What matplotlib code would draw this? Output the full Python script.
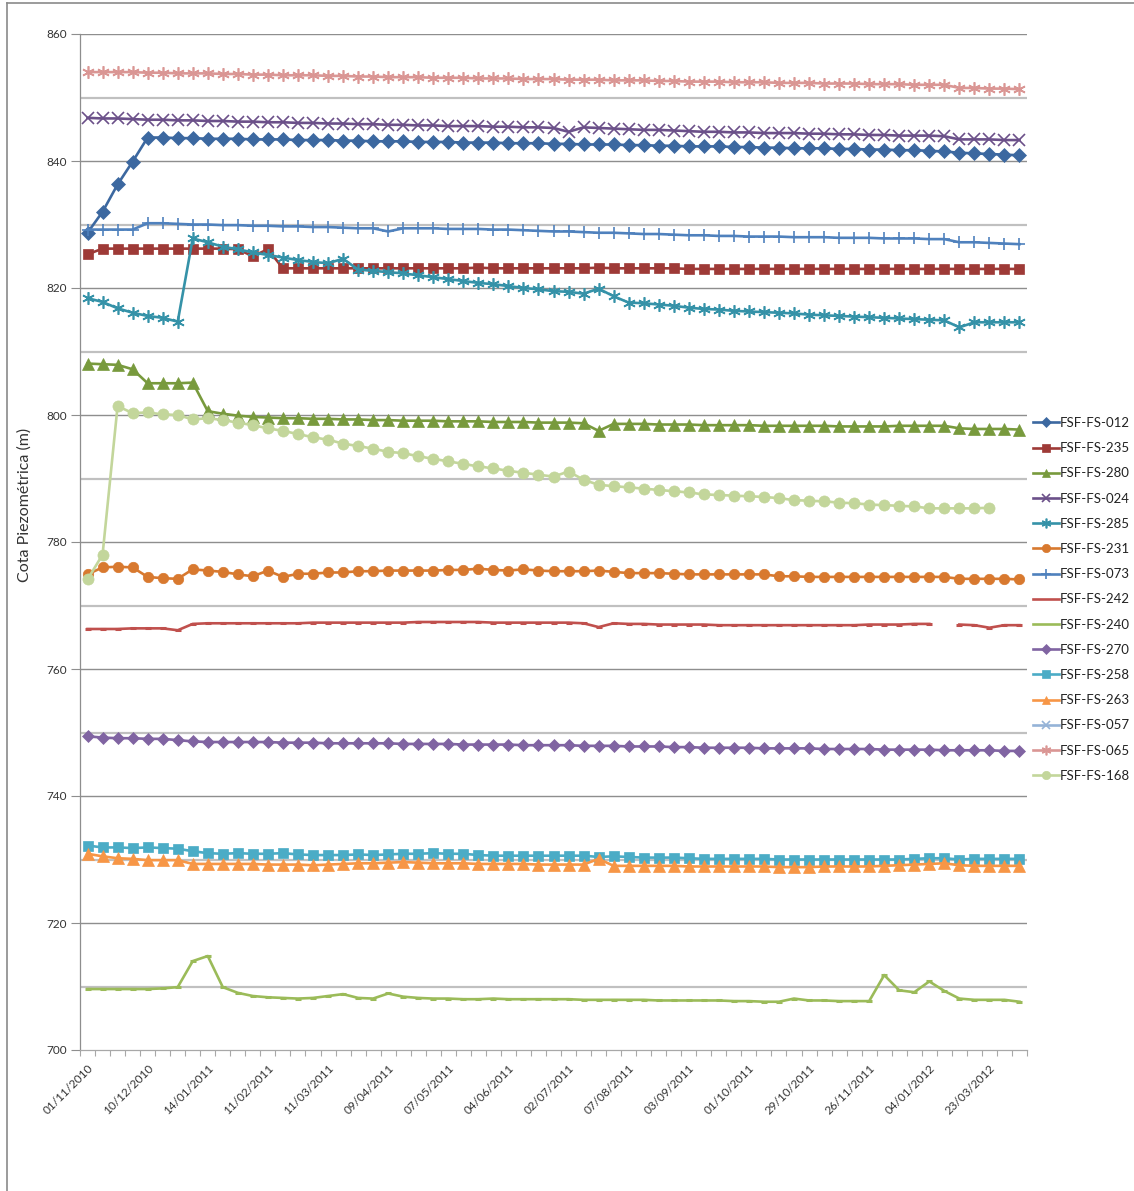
import numpy as np
import matplotlib
matplotlib.use("Agg")
import matplotlib.pyplot as plt
from matplotlib.lines import Line2D

plt.rcParams['font.family'] = ['Lato', 'DejaVu Sans']

nan = np.nan

# Dates shown on the category axis (every 4th reading)
tick_labels = ["01/11/2010", "10/12/2010", "14/01/2011", "11/02/2011", "11/03/2011",
               "09/04/2011", "07/05/2011", "04/06/2011", "02/07/2011", "07/08/2011",
               "03/09/2011", "01/10/2011", "29/10/2011", "26/11/2011", "04/01/2012",
               "23/03/2012"]
n_readings = 63

fsf_012 = [828.7, 832.0, 836.3, 839.9, 843.7, 843.7, 843.6, 843.6, 843.5, 843.5,
           843.5, 843.4, 843.4, 843.4, 843.3, 843.3, 843.3, 843.2, 843.2, 843.1,
           843.1, 843.1, 843.0, 843.0, 843.0, 842.9, 842.9, 842.9, 842.8, 842.8,
           842.8, 842.7, 842.7, 842.6, 842.6, 842.6, 842.5, 842.5, 842.4, 842.4,
           842.3, 842.3, 842.3, 842.2, 842.2, 842.1, 842.1, 842.0, 842.0, 842.0,
           841.9, 841.9, 841.8, 841.8, 841.7, 841.7, 841.6, 841.5, 841.3, 841.2,
           841.1, 841.0, 840.9]
fsf_235 = [825.3, 826.2, 826.2, 826.2, 826.2, 826.2, 826.2, 826.2, 826.2, 826.2,
           826.1, 825.0, 826.1, 823.1, 823.1, 823.1, 823.1, 823.1, 823.1, 823.1,
           823.1, 823.1, 823.1, 823.1, 823.1, 823.1, 823.2, 823.1, 823.1, 823.1,
           823.1, 823.1, 823.1, 823.1, 823.2, 823.1, 823.1, 823.1, 823.1, 823.1,
           823.0, 823.0, 823.0, 823.0, 823.0, 823.0, 823.0, 823.0, 823.0, 823.0,
           823.0, 823.0, 823.0, 823.0, 823.0, 823.0, 823.0, 823.0, 823.0, 823.0,
           823.0, 823.0, 823.0]
fsf_280 = [808.1, 808.0, 807.9, 807.2, 805.0, 805.0, 805.0, 805.1, 800.6, 800.2,
           799.9, 799.7, 799.6, 799.5, 799.5, 799.4, 799.4, 799.3, 799.3, 799.2,
           799.2, 799.1, 799.1, 799.1, 799.0, 799.0, 799.0, 798.9, 798.9, 798.9,
           798.8, 798.8, 798.8, 798.7, 797.5, 798.6, 798.6, 798.6, 798.5, 798.5,
           798.5, 798.4, 798.4, 798.4, 798.4, 798.3, 798.3, 798.3, 798.3, 798.3,
           798.2, 798.2, 798.2, 798.2, 798.3, 798.3, 798.3, 798.3, 797.9, 797.8,
           797.8, 797.8, 797.7]
fsf_024 = [846.8, 846.7, 846.7, 846.6, 846.5, 846.5, 846.4, 846.4, 846.3, 846.3,
           846.2, 846.2, 846.1, 846.1, 846.0, 846.0, 845.9, 845.9, 845.8, 845.8,
           845.7, 845.7, 845.6, 845.6, 845.5, 845.5, 845.5, 845.4, 845.4, 845.3,
           845.3, 845.2, 844.6, 845.3, 845.2, 845.1, 845.0, 844.9, 844.9, 844.8,
           844.7, 844.6, 844.6, 844.5, 844.5, 844.4, 844.4, 844.4, 844.3, 844.3,
           844.2, 844.2, 844.1, 844.1, 844.0, 844.0, 844.0, 843.9, 843.4, 843.4,
           843.4, 843.3, 843.3]
fsf_285 = [818.4, 817.8, 816.8, 816.1, 815.6, 815.3, 814.7, 827.8, 827.2, 826.5,
           826.1, 825.6, 825.2, 824.8, 824.4, 824.1, 823.9, 824.6, 822.9, 822.7,
           822.5, 822.3, 822.0, 821.7, 821.4, 821.1, 820.8, 820.6, 820.3, 820.0,
           819.8, 819.5, 819.4, 819.1, 819.9, 818.7, 817.7, 817.6, 817.4, 817.2,
           816.9, 816.7, 816.6, 816.4, 816.3, 816.2, 816.1, 816.0, 815.8, 815.7,
           815.6, 815.5, 815.4, 815.3, 815.2, 815.1, 815.0, 814.9, 813.8, 814.6,
           814.6, 814.6, 814.6]
fsf_231 = [774.9, 776.0, 776.1, 776.0, 774.5, 774.3, 774.2, 775.7, 775.5, 775.3,
           774.9, 774.6, 775.5, 774.5, 775.0, 775.0, 775.2, 775.2, 775.4, 775.4,
           775.5, 775.5, 775.5, 775.5, 775.6, 775.6, 775.8, 775.6, 775.5, 775.7,
           775.5, 775.4, 775.4, 775.4, 775.5, 775.3, 775.1, 775.1, 775.1, 775.0,
           774.9, 774.9, 774.9, 774.9, 774.9, 774.9, 774.6, 774.6, 774.5, 774.5,
           774.5, 774.5, 774.5, 774.5, 774.5, 774.5, 774.5, 774.5, 774.2, 774.2,
           774.2, 774.2, 774.1]
fsf_073 = [829.2, 829.2, 829.2, 829.2, 830.2, 830.2, 830.1, 830.0, 830.0, 829.9,
           829.9, 829.8, 829.8, 829.7, 829.7, 829.6, 829.6, 829.5, 829.4, 829.4,
           828.9, 829.4, 829.4, 829.4, 829.3, 829.3, 829.3, 829.2, 829.2, 829.1,
           829.0, 828.9, 828.9, 828.8, 828.7, 828.7, 828.6, 828.5, 828.5, 828.4,
           828.3, 828.3, 828.2, 828.2, 828.1, 828.1, 828.1, 828.0, 828.0, 828.0,
           827.9, 827.9, 827.9, 827.8, 827.8, 827.8, 827.7, 827.7, 827.2, 827.2,
           827.1, 827.0, 826.9]
fsf_242 = [766.3, 766.3, 766.3, 766.4, 766.4, 766.4, 766.1, 767.1, 767.2, 767.2,
           767.2, 767.2, 767.2, 767.2, 767.2, 767.3, 767.3, 767.3, 767.3, 767.3,
           767.3, 767.3, 767.4, 767.4, 767.4, 767.4, 767.4, 767.3, 767.3, 767.3,
           767.3, 767.3, 767.3, 767.2, 766.6, 767.2, 767.1, 767.1, 767.0, 767.0,
           767.0, 767.0, 766.9, 766.9, 766.9, 766.9, 766.9, 766.9, 766.9, 766.9,
           766.9, 766.9, 767.0, 767.0, 767.0, 767.1, 767.1, nan, 767.0, 766.9,
           766.5, 766.9, 766.9]
fsf_240 = [709.6, 709.6, 709.6, 709.6, 709.6, 709.7, 709.9, 714.0, 714.8, 709.9,
           709.0, 708.5, 708.3, 708.2, 708.1, 708.2, 708.5, 708.8, 708.2, 708.1,
           708.9, 708.4, 708.2, 708.1, 708.1, 708.0, 708.0, 708.1, 708.0, 708.0,
           708.0, 708.0, 708.0, 707.9, 707.9, 707.9, 707.9, 707.9, 707.8, 707.8,
           707.8, 707.8, 707.8, 707.7, 707.7, 707.6, 707.6, 708.1, 707.8, 707.8,
           707.7, 707.7, 707.7, 711.8, 709.4, 709.1, 710.8, 709.3, 708.1, 707.9,
           707.9, 707.9, 707.6]
fsf_270 = [749.4, 749.2, 749.1, 749.1, 749.0, 749.0, 748.8, 748.6, 748.5, 748.5,
           748.5, 748.5, 748.5, 748.4, 748.4, 748.4, 748.3, 748.3, 748.3, 748.3,
           748.3, 748.2, 748.2, 748.2, 748.2, 748.1, 748.1, 748.1, 748.1, 748.0,
           748.0, 748.0, 748.0, 747.9, 747.9, 747.9, 747.8, 747.8, 747.8, 747.7,
           747.7, 747.6, 747.6, 747.6, 747.6, 747.5, 747.5, 747.5, 747.5, 747.4,
           747.4, 747.4, 747.4, 747.3, 747.3, 747.3, 747.3, 747.2, 747.2, 747.2,
           747.2, 747.1, 747.1]
fsf_258 = [732.2, 731.9, 731.9, 731.8, 731.9, 731.8, 731.7, 731.3, 731.0, 730.9,
           731.0, 730.9, 730.9, 731.0, 730.8, 730.7, 730.7, 730.7, 730.8, 730.7,
           730.8, 730.9, 730.9, 731.0, 730.9, 730.9, 730.7, 730.6, 730.6, 730.6,
           730.6, 730.6, 730.6, 730.6, 730.4, 730.5, 730.4, 730.3, 730.3, 730.3,
           730.2, 730.1, 730.1, 730.1, 730.1, 730.1, 730.0, 730.0, 730.0, 730.0,
           730.0, 730.0, 730.0, 730.0, 730.0, 730.1, 730.2, 730.2, 730.0, 730.1,
           730.1, 730.1, 730.1]
fsf_263 = [730.9, 730.5, 730.2, 730.1, 729.9, 729.9, 729.9, 729.3, 729.3, 729.3,
           729.3, 729.3, 729.2, 729.2, 729.2, 729.1, 729.2, 729.3, 729.4, 729.4,
           729.5, 729.6, 729.5, 729.4, 729.4, 729.4, 729.3, 729.3, 729.3, 729.3,
           729.2, 729.2, 729.2, 729.2, 730.1, 729.0, 729.0, 729.0, 729.0, 729.0,
           728.9, 728.9, 728.9, 728.9, 728.9, 728.9, 728.8, 728.8, 728.8, 728.9,
           728.9, 728.9, 728.9, 729.0, 729.1, 729.2, 729.3, 729.4, 729.1, 729.0,
           729.0, 729.0, 729.0]
fsf_057 = []  # no readings recorded for this well
fsf_065 = [854.0, 854.0, 854.0, 854.0, 853.9, 853.9, 853.8, 853.8, 853.8, 853.7,
           853.7, 853.6, 853.6, 853.5, 853.5, 853.5, 853.4, 853.4, 853.3, 853.3,
           853.2, 853.2, 853.2, 853.1, 853.1, 853.1, 853.0, 853.0, 853.0, 852.9,
           852.9, 852.9, 852.8, 852.8, 852.8, 852.7, 852.7, 852.7, 852.6, 852.6,
           852.5, 852.5, 852.5, 852.4, 852.4, 852.4, 852.3, 852.3, 852.3, 852.2,
           852.2, 852.2, 852.1, 852.1, 852.1, 852.0, 852.0, 852.0, 851.5, 851.5,
           851.4, 851.4, 851.3]
fsf_168 = [774.1, 778.0, 801.4, 800.3, 800.4, 800.1, 800.0, 799.3, 799.5, 799.2,
           798.8, 798.4, 797.9, 797.5, 797.0, 796.5, 796.1, 795.5, 795.1, 794.7,
           794.2, 794.0, 793.5, 793.1, 792.7, 792.3, 791.9, 791.6, 791.2, 790.9,
           790.6, 790.3, 791.1, 789.8, 789.0, 788.8, 788.6, 788.4, 788.2, 788.0,
           787.8, 787.5, 787.4, 787.3, 787.2, 787.1, 786.9, 786.6, 786.5, 786.4,
           786.2, 786.1, 785.9, 785.8, 785.7, 785.6, 785.3, 785.3, 785.3, 785.3,
           785.4, nan, nan]

asterisk = (6, 2, 0)
series = [
    ("FSF-FS-012", fsf_012, "#3C68A0", "D", 7, 5),
    ("FSF-FS-235", fsf_235, "#9E3A37", "s", 7.5, 6),
    ("FSF-FS-280", fsf_280, "#789A3D", "^", 8, 6),
    ("FSF-FS-024", fsf_024, "#6B5089", "x", 8, 6),
    ("FSF-FS-285", fsf_285, "#3592A8", asterisk, 9, 7),
    ("FSF-FS-231", fsf_231, "#D8792F", "o", 7.5, 6),
    ("FSF-FS-073", fsf_073, "#4F81BD", "+", 8, 7),
    ("FSF-FS-242", fsf_242, "#C0504D", "_", 5, 0),
    ("FSF-FS-240", fsf_240, "#9BBB59", "_", 5, 0),
    ("FSF-FS-270", fsf_270, "#8064A2", "D", 6.5, 5),
    ("FSF-FS-258", fsf_258, "#4BACC6", "s", 7.5, 6),
    ("FSF-FS-263", fsf_263, "#F79646", "^", 8, 6),
    ("FSF-FS-057", fsf_057, "#95B3D7", "x", 8, 6),
    ("FSF-FS-065", fsf_065, "#DA9694", asterisk, 9, 7),
    ("FSF-FS-168", fsf_168, "#C3D69B", "o", 8, 6),
]

W, H = 1134, 1191
fig = plt.figure(figsize=(W / 100, H / 100), dpi=100)
L, R, T, B = 80, 1027, 34, 1050
ax = fig.add_axes([L / W, 1 - B / H, (R - L) / W, (B - T) / H])

# chart-area frame (left and top edges)
fig.add_artist(Line2D([7 / W, 7 / W], [0, 1 - 3 / H], transform=fig.transFigure,
                      color="#8a8a8a", lw=1.2))
fig.add_artist(Line2D([7 / W, 1], [1 - 3 / H, 1 - 3 / H], transform=fig.transFigure,
                      color="#8a8a8a", lw=1.2))

x = np.arange(n_readings)
handles = []
for name, vals, col, mk, ms, lms in series:
    xs = x[:len(vals)]
    mew = 1.2 if mk in ("x", "+", asterisk, "_") else 0.5
    ax.plot(xs, vals, color=col, lw=1.9, marker=mk, ms=ms, mec=col, mfc=col,
            mew=mew if mk != "_" else 2.2, clip_on=False, zorder=3)
    handles.append(Line2D([], [], color=col, lw=1.9, marker=mk if lms else None,
                          ms=lms, mec=col, mfc=col, mew=mew))

ax.set_xlim(-0.5, n_readings - 0.5)
ax.set_ylim(700, 860)

# horizontal gridlines: darker every 20 m, lighter in between
for v in range(710, 860, 20):
    ax.axhline(v, color="#c0c0c0", lw=1.6, zorder=1)
for v in range(720, 861, 20):
    ax.axhline(v, color="#8e8e8e", lw=1.0, zorder=1)

ax.set_yticks(range(700, 861, 20))
ax.tick_params(axis="y", length=6.5, width=0.8, color="#8e8e8e", labelsize=8.5,
               labelcolor="#333333", pad=3)
ax.set_xticks(np.arange(0, n_readings, 4))
ax.set_xticklabels(tick_labels, rotation=45, ha="right", rotation_mode="anchor",
                   fontsize=8.5, color="#333333")
ax.set_xticks(np.arange(-0.5, n_readings, 1), minor=True)
ax.tick_params(axis="x", which="major", length=0, pad=9)
ax.tick_params(axis="x", which="minor", length=4, width=0.8, color="#a8a8a8")

for s in ("top", "right"):
    ax.spines[s].set_visible(False)
ax.spines["left"].set_color("#8e8e8e")
ax.spines["bottom"].set_color("#a8a8a8")
ax.spines["left"].set_linewidth(0.9)
ax.spines["bottom"].set_linewidth(0.9)

fig.text(25 / W, 1 - 505 / H, "Cota Piezométrica (m)", rotation=90, ha="center",
         va="center", fontsize=11.5, color="#333333")

fig.legend(handles, [s[0] for s in series], loc="upper left",
           bbox_to_anchor=(1033 / W, 1 - 417 / H), frameon=False, fontsize=9.5,
           handlelength=1.95, handletextpad=0.1, labelspacing=1.0,
           borderaxespad=0, borderpad=0, labelcolor="#222222")

fig.savefig("out.png", dpi=100)
